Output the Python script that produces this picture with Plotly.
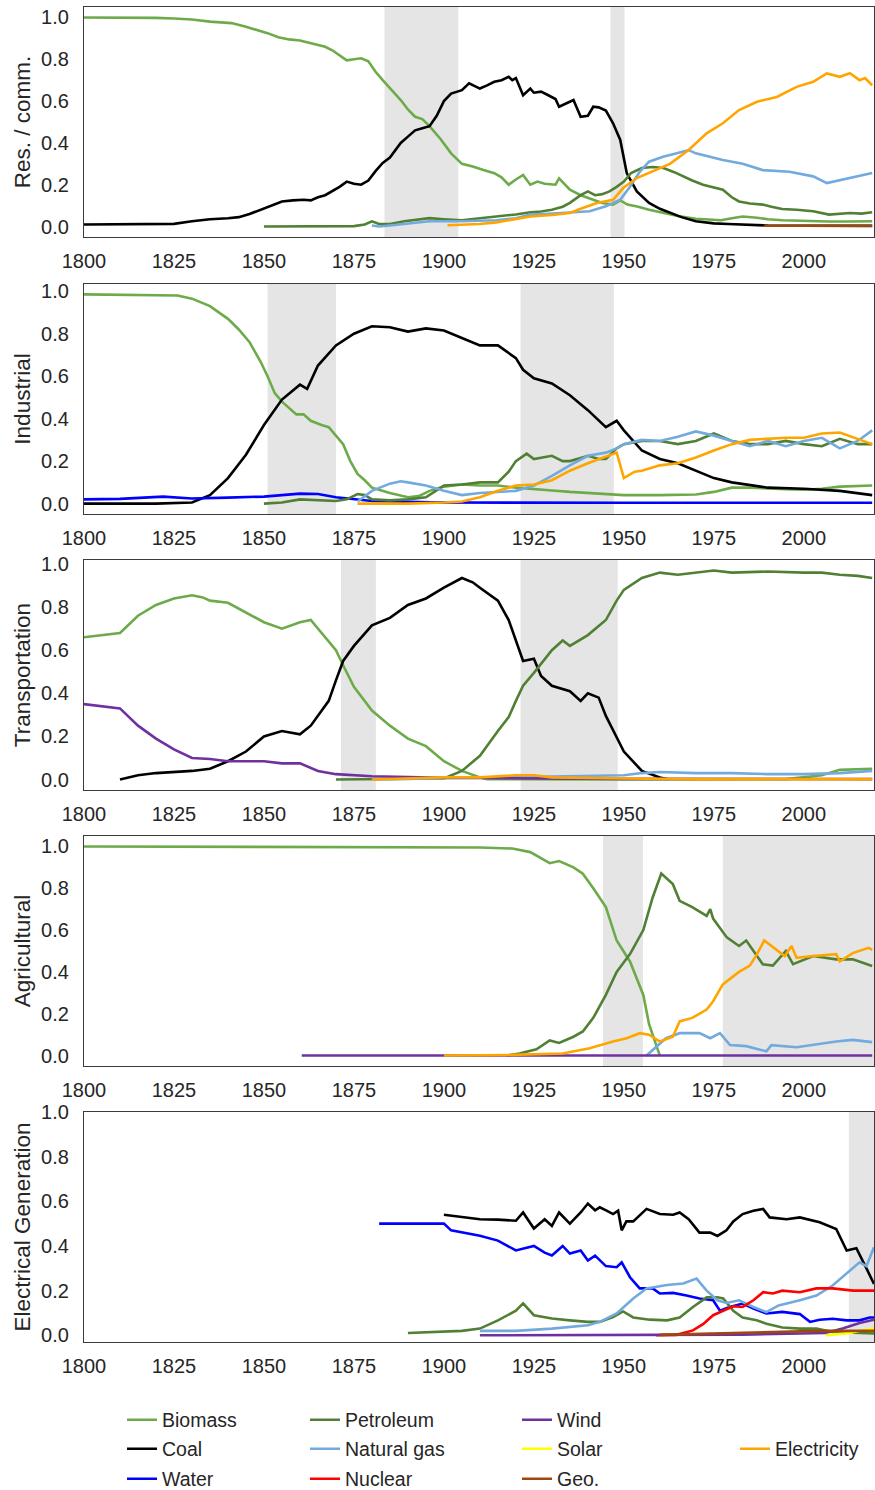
import plotly.graph_objects as go

# ---------------- data ----------------
# Panel 1: Res. / comm.
res_biomass_years = [1800, 1810, 1820, 1825, 1830, 1835, 1838, 1841, 1845, 1848, 1851, 1854, 1857, 1860, 1862, 1864, 1867, 1869, 1871, 1873, 1875, 1877, 1879, 1881, 1883, 1886, 1888, 1890, 1892, 1894, 1896, 1899, 1902, 1905, 1908, 1911, 1914, 1916, 1918, 1920, 1922, 1924, 1926, 1928, 1931, 1932, 1935, 1938, 1940, 1944, 1947, 1949, 1951, 1954, 1957, 1961, 1965, 1970, 1974, 1977, 1980, 1983, 1987, 1990, 1994, 2000, 2007, 2012, 2019]
res_biomass = [1.0, 1.0, 0.998, 0.995, 0.99, 0.98, 0.975, 0.973, 0.955, 0.94, 0.925, 0.905, 0.895, 0.89, 0.882, 0.875, 0.86, 0.843, 0.82, 0.795, 0.80, 0.805, 0.79, 0.74, 0.70, 0.645, 0.605, 0.56, 0.525, 0.514, 0.48, 0.42, 0.35, 0.30, 0.287, 0.27, 0.255, 0.235, 0.20, 0.225, 0.247, 0.20, 0.215, 0.205, 0.20, 0.23, 0.176, 0.15, 0.137, 0.113, 0.105, 0.125, 0.105, 0.095, 0.08, 0.066, 0.05, 0.037, 0.032, 0.03, 0.04, 0.048, 0.042, 0.035, 0.03, 0.026, 0.024, 0.024, 0.025]
res_coal_years = [1800, 1810, 1820, 1825, 1830, 1835, 1840, 1843, 1846, 1849, 1852, 1855, 1858, 1861, 1863, 1865, 1867, 1869, 1871, 1873, 1875, 1877, 1879, 1881, 1883, 1885, 1888, 1890, 1892, 1894, 1896, 1898, 1900, 1902, 1905, 1907, 1910, 1912, 1914, 1916, 1918, 1919, 1920, 1922, 1924, 1925, 1927, 1929, 1931, 1932, 1934, 1936, 1938, 1940, 1941.5, 1943, 1945, 1947, 1949, 1950.8, 1953.6, 1957, 1960, 1963, 1966, 1970, 1975, 1979, 1985, 1990, 2000, 2019]
res_coal = [0.01, 0.01, 0.011, 0.013, 0.025, 0.035, 0.04, 0.045, 0.06, 0.08, 0.10, 0.12, 0.125, 0.128, 0.125, 0.14, 0.15, 0.168, 0.19, 0.215, 0.205, 0.20, 0.22, 0.265, 0.304, 0.33, 0.40, 0.43, 0.46, 0.47, 0.48, 0.53, 0.60, 0.636, 0.652, 0.685, 0.66, 0.675, 0.692, 0.70, 0.716, 0.70, 0.71, 0.628, 0.66, 0.64, 0.645, 0.628, 0.61, 0.573, 0.59, 0.605, 0.525, 0.53, 0.573, 0.57, 0.555, 0.494, 0.414, 0.256, 0.168, 0.113, 0.085, 0.066, 0.045, 0.025, 0.015, 0.012, 0.008, 0.005, 0.004, 0.003]
res_petroleum_years = [1850, 1860, 1870, 1875, 1878, 1880, 1882, 1885, 1889, 1892, 1896, 1900, 1905, 1910, 1915, 1920, 1924, 1927, 1930, 1933, 1935, 1938, 1940, 1942, 1944, 1946, 1948, 1950, 1952, 1955, 1958, 1961, 1964, 1966.5, 1969, 1972, 1975, 1977.5, 1980, 1982, 1985, 1988.6, 1991, 1994, 1998, 2002.6, 2007, 2010, 2012.8, 2016, 2019]
res_petroleum = [0.0, 0.0, 0.0, 0.002, 0.01, 0.025, 0.012, 0.012, 0.025, 0.03, 0.04, 0.035, 0.03, 0.04, 0.048, 0.058, 0.068, 0.072, 0.08, 0.095, 0.113, 0.15, 0.168, 0.15, 0.155, 0.168, 0.19, 0.215, 0.256, 0.28, 0.285, 0.28, 0.26, 0.24, 0.22, 0.20, 0.185, 0.176, 0.14, 0.12, 0.11, 0.105, 0.095, 0.084, 0.08, 0.073, 0.057, 0.06, 0.065, 0.062, 0.068]
res_gas_years = [1880, 1882, 1885, 1890, 1896, 1905, 1914.6, 1920, 1924, 1928, 1933, 1940.5, 1945, 1949, 1951.7, 1954.4, 1957, 1960.9, 1964.7, 1968, 1970, 1974, 1977.5, 1983, 1988.6, 1996, 2002.6, 2006.4, 2011, 2014.7, 2019]
res_gas = [0.005, 0.0, 0.005, 0.015, 0.025, 0.025, 0.03, 0.04, 0.057, 0.06, 0.065, 0.073, 0.097, 0.128, 0.19, 0.262, 0.31, 0.334, 0.35, 0.366, 0.35, 0.334, 0.318, 0.30, 0.27, 0.262, 0.24, 0.208, 0.225, 0.24, 0.256]
res_geo_years = [1989, 2019]
res_geo = [0.004, 0.004]
res_elec_years = [1901, 1905, 1910, 1914.6, 1920, 1924, 1930, 1935, 1938, 1942.5, 1947, 1949.8, 1953.6, 1959, 1962.8, 1968, 1973, 1977.5, 1982, 1987, 1992.5, 1998, 2002.6, 2006.4, 2010, 2012.8, 2015.5, 2017, 2019]
res_elec = [0.006, 0.008, 0.012, 0.02, 0.035, 0.048, 0.055, 0.065, 0.085, 0.113, 0.128, 0.184, 0.232, 0.27, 0.30, 0.366, 0.446, 0.494, 0.557, 0.597, 0.62, 0.668, 0.692, 0.732, 0.716, 0.733, 0.70, 0.71, 0.676]

# Panel 2: Industrial
ind_biomass_years = [1800, 1810, 1820, 1826, 1830, 1835, 1840, 1843, 1846, 1849, 1851, 1853, 1855, 1857, 1859, 1861, 1863, 1866, 1868, 1870, 1872, 1874, 1876, 1878, 1880, 1885, 1890, 1893, 1896, 1900, 1905, 1910, 1915, 1920, 1925, 1930, 1935, 1940, 1945, 1950, 1960, 1970, 1975, 1980, 1985, 1990, 1995, 2000, 2005, 2010, 2015, 2019]
ind_biomass = [0.985, 0.983, 0.98, 0.98, 0.965, 0.93, 0.87, 0.82, 0.76, 0.67, 0.60, 0.52, 0.48, 0.45, 0.42, 0.42, 0.39, 0.37, 0.36, 0.32, 0.28, 0.20, 0.14, 0.11, 0.075, 0.05, 0.03, 0.035, 0.06, 0.08, 0.09, 0.085, 0.085, 0.075, 0.07, 0.062, 0.055, 0.05, 0.045, 0.04, 0.04, 0.043, 0.055, 0.075, 0.075, 0.07, 0.068, 0.065, 0.07, 0.08, 0.083, 0.085]
ind_coal_years = [1800, 1820, 1830, 1835, 1840, 1845, 1850, 1855, 1860, 1862, 1865, 1870, 1875, 1880, 1885, 1890, 1895, 1900, 1905, 1910, 1915, 1920, 1922, 1925, 1930, 1935, 1940, 1945, 1948, 1950, 1955, 1960, 1965, 1970, 1975, 1980, 1990, 2000, 2010, 2019]
ind_coal = [0.0, 0.0, 0.005, 0.04, 0.12, 0.23, 0.37, 0.49, 0.56, 0.54, 0.65, 0.745, 0.80, 0.835, 0.83, 0.81, 0.825, 0.815, 0.78, 0.745, 0.745, 0.685, 0.63, 0.59, 0.566, 0.51, 0.44, 0.36, 0.39, 0.345, 0.25, 0.21, 0.19, 0.155, 0.12, 0.10, 0.075, 0.07, 0.06, 0.04]
ind_water_years = [1800, 1810, 1822, 1830, 1840, 1850, 1860, 1865, 1870, 1875, 1880, 1890, 1900, 1950, 2019]
ind_water = [0.02, 0.022, 0.033, 0.024, 0.028, 0.033, 0.047, 0.045, 0.03, 0.02, 0.012, 0.008, 0.005, 0.004, 0.004]
ind_petroleum_years = [1850, 1855, 1860, 1865, 1870, 1873, 1876, 1878, 1880, 1885, 1890, 1895, 1900, 1905, 1910, 1915, 1918, 1920, 1923, 1925, 1928, 1930, 1933, 1935, 1938, 1940, 1943, 1945, 1948, 1950, 1955, 1960, 1965, 1970, 1975, 1980, 1985, 1990, 1995, 2000, 2005, 2010, 2015, 2019]
ind_petroleum = [0.0, 0.005, 0.02, 0.015, 0.012, 0.02, 0.045, 0.04, 0.02, 0.015, 0.02, 0.03, 0.085, 0.09, 0.10, 0.10, 0.15, 0.20, 0.235, 0.21, 0.22, 0.225, 0.20, 0.20, 0.215, 0.225, 0.21, 0.21, 0.26, 0.28, 0.295, 0.295, 0.28, 0.295, 0.33, 0.295, 0.28, 0.28, 0.295, 0.28, 0.27, 0.305, 0.28, 0.28]
ind_gas_years = [1876, 1880, 1885, 1888, 1890, 1895, 1900, 1905, 1910, 1915, 1920, 1925, 1930, 1935, 1940, 1945, 1948, 1950, 1955, 1960, 1965, 1970, 1975, 1980, 1985, 1990, 1995, 2000, 2005, 2010, 2015, 2019]
ind_gas = [0.01, 0.06, 0.094, 0.105, 0.10, 0.085, 0.06, 0.04, 0.05, 0.055, 0.06, 0.085, 0.13, 0.18, 0.225, 0.24, 0.26, 0.28, 0.30, 0.295, 0.315, 0.34, 0.32, 0.295, 0.27, 0.295, 0.27, 0.295, 0.31, 0.26, 0.295, 0.345]
ind_elec_years = [1876, 1890, 1900, 1905, 1910, 1915, 1920, 1925, 1930, 1935, 1940, 1945, 1948, 1950, 1953, 1955, 1960, 1965, 1970, 1975, 1980, 1985, 1990, 1995, 2000, 2005, 2010, 2015, 2019]
ind_elec = [0.0, 0.0, 0.005, 0.01, 0.03, 0.06, 0.085, 0.09, 0.11, 0.155, 0.19, 0.22, 0.24, 0.12, 0.15, 0.155, 0.18, 0.19, 0.217, 0.25, 0.28, 0.30, 0.305, 0.31, 0.31, 0.33, 0.335, 0.305, 0.28]

# Panel 3: Transportation
tr_biomass_years = [1800, 1810, 1815, 1820, 1825, 1830, 1833, 1835, 1840, 1845, 1850, 1855, 1860, 1863, 1865, 1870, 1872, 1875, 1880, 1885, 1890, 1895, 1900, 1905, 1910, 1912, 1950, 1995, 2005, 2010, 2019]
tr_biomass = [0.66, 0.68, 0.76, 0.81, 0.84, 0.855, 0.845, 0.83, 0.82, 0.775, 0.73, 0.70, 0.73, 0.74, 0.70, 0.60, 0.53, 0.43, 0.32, 0.25, 0.19, 0.155, 0.085, 0.04, 0.01, 0.002, 0.001, 0.002, 0.02, 0.045, 0.05]
tr_coal_years = [1810, 1815, 1820, 1830, 1835, 1840, 1845, 1850, 1855, 1860, 1863, 1865, 1868, 1870, 1872, 1875, 1880, 1885, 1890, 1895, 1900, 1905, 1908, 1910, 1915, 1918, 1920, 1922, 1925, 1927, 1930, 1935, 1938, 1940, 1943, 1945, 1950, 1955, 1960, 1962]
tr_coal = [0.0, 0.02, 0.03, 0.04, 0.05, 0.085, 0.13, 0.20, 0.225, 0.21, 0.25, 0.295, 0.365, 0.46, 0.55, 0.62, 0.715, 0.75, 0.81, 0.84, 0.89, 0.935, 0.915, 0.89, 0.83, 0.74, 0.645, 0.55, 0.56, 0.48, 0.435, 0.41, 0.365, 0.40, 0.38, 0.295, 0.13, 0.04, 0.01, 0.002]
tr_petroleum_years = [1870, 1900, 1905, 1910, 1915, 1918, 1920, 1922, 1925, 1930, 1933, 1935, 1940, 1945, 1948, 1950, 1955, 1960, 1965, 1970, 1975, 1980, 1990, 2000, 2005, 2010, 2015, 2019]
tr_petroleum = [0.0, 0.005, 0.04, 0.11, 0.225, 0.29, 0.365, 0.435, 0.495, 0.60, 0.645, 0.62, 0.67, 0.74, 0.83, 0.88, 0.935, 0.96, 0.95, 0.96, 0.97, 0.96, 0.965, 0.96, 0.96, 0.95, 0.945, 0.935]
tr_gas_years = [1880, 1900, 1920, 1940, 1950, 1955, 1960, 1970, 1980, 1990, 2000, 2010, 2019]
tr_gas = [0.0, 0.005, 0.01, 0.015, 0.02, 0.03, 0.035, 0.03, 0.03, 0.025, 0.025, 0.03, 0.04]
tr_wind_years = [1800, 1810, 1815, 1820, 1825, 1830, 1835, 1840, 1850, 1855, 1860, 1865, 1870, 1880, 1900, 1920, 1950, 2019]
tr_wind = [0.35, 0.33, 0.25, 0.19, 0.14, 0.10, 0.095, 0.085, 0.085, 0.075, 0.075, 0.04, 0.025, 0.015, 0.008, 0.005, 0.003, 0.002]
tr_elec_years = [1880, 1900, 1910, 1920, 1925, 1930, 1950, 1970, 2019]
tr_elec = [0.0, 0.01, 0.01, 0.02, 0.02, 0.01, 0.005, 0.002, 0.002]

# Panel 4: Agricultural
ag_biomass_years = [1800, 1850, 1882, 1910, 1919, 1924, 1929.4, 1932, 1936, 1938.6, 1941.5, 1945, 1948, 1951.7, 1955.4, 1957, 1960]
ag_biomass = [1.0, 0.998, 0.997, 0.995, 0.99, 0.973, 0.92, 0.93, 0.90, 0.87, 0.80, 0.71, 0.55, 0.45, 0.29, 0.15, 0.0]
ag_petroleum_years = [1917.5, 1921, 1925.7, 1929.4, 1932, 1936, 1938.6, 1941.5, 1945, 1948, 1951.7, 1955.4, 1958, 1960.4, 1963.6, 1965.5, 1969, 1973, 1974, 1974.8, 1978.6, 1982, 1984, 1988.6, 1991.4, 1995, 1997, 2002.6, 2009, 2013.6, 2019]
ag_petroleum = [0.0, 0.01, 0.03, 0.072, 0.06, 0.09, 0.115, 0.18, 0.29, 0.40, 0.485, 0.60, 0.756, 0.87, 0.82, 0.74, 0.71, 0.668, 0.70, 0.655, 0.565, 0.524, 0.55, 0.437, 0.43, 0.50, 0.437, 0.476, 0.46, 0.46, 0.428]
ag_gas_years = [1956.3, 1961.7, 1965.5, 1971, 1974, 1976.7, 1979.5, 1984, 1989.6, 1991, 1998, 2002, 2009, 2013.6, 2019]
ag_gas = [0.0, 0.083, 0.107, 0.107, 0.083, 0.107, 0.05, 0.045, 0.02, 0.05, 0.04, 0.05, 0.067, 0.075, 0.064]
ag_wind_years = [1860.5, 2019]
ag_wind = [0.0, 0.0]
ag_elec_years = [1900, 1919, 1933, 1940.5, 1947, 1950.8, 1954.4, 1957, 1960, 1963.6, 1965.5, 1969, 1973, 1974.8, 1977.5, 1982, 1985, 1987, 1989, 1991.4, 1994.7, 1996.6, 1998, 2002.6, 2009, 2010, 2013.6, 2018, 2019]
ag_elec = [0.0, 0.003, 0.01, 0.035, 0.067, 0.083, 0.107, 0.10, 0.067, 0.09, 0.163, 0.18, 0.22, 0.26, 0.34, 0.40, 0.43, 0.485, 0.55, 0.518, 0.476, 0.524, 0.467, 0.476, 0.485, 0.45, 0.49, 0.515, 0.505]

# Panel 5: Electrical Generation
eg_coal_years = [1900, 1905, 1910, 1915, 1920, 1922, 1925, 1928, 1930, 1932, 1935, 1938, 1940, 1942, 1943.3, 1945.2, 1947, 1948.4, 1949.4, 1950.7, 1952.6, 1956.3, 1960, 1963.7, 1965.5, 1968, 1971, 1974, 1976, 1978.5, 1980.4, 1983, 1986, 1988.7, 1990.5, 1995.2, 1998.9, 2004.4, 2009, 2011.9, 2014.6, 2017.4, 2019.5]
eg_coal = [0.54, 0.53, 0.52, 0.518, 0.513, 0.55, 0.478, 0.52, 0.49, 0.55, 0.50, 0.55, 0.59, 0.56, 0.573, 0.558, 0.543, 0.558, 0.47, 0.51, 0.51, 0.566, 0.543, 0.54, 0.55, 0.52, 0.46, 0.46, 0.445, 0.47, 0.51, 0.543, 0.558, 0.566, 0.528, 0.52, 0.528, 0.506, 0.476, 0.38, 0.39, 0.30, 0.23]
eg_water_years = [1882, 1900, 1902, 1905, 1910, 1915, 1920, 1925, 1928, 1930, 1933, 1935, 1938, 1940, 1942, 1945, 1948, 1949.4, 1951.7, 1954.4, 1958, 1960, 1963.7, 1967.4, 1971, 1974.8, 1976.7, 1979.4, 1983, 1986, 1989.6, 1994, 1998.9, 2001.7, 2004.4, 2008, 2011.9, 2015.5, 2018.3, 2019.5]
eg_water = [0.50, 0.50, 0.47, 0.46, 0.446, 0.424, 0.38, 0.40, 0.37, 0.357, 0.40, 0.366, 0.38, 0.335, 0.357, 0.31, 0.305, 0.327, 0.26, 0.21, 0.21, 0.187, 0.19, 0.178, 0.165, 0.157, 0.11, 0.127, 0.142, 0.12, 0.098, 0.105, 0.095, 0.06, 0.07, 0.074, 0.067, 0.067, 0.08, 0.08]
eg_petroleum_years = [1890, 1900, 1905, 1910, 1915, 1920, 1922, 1925, 1930, 1935, 1940, 1943.3, 1947, 1949.8, 1952.6, 1957.2, 1962, 1965.5, 1969.2, 1973, 1976, 1977.6, 1980.4, 1983, 1986.9, 1989.6, 1994, 1998.9, 2003.5, 2008, 2017.4, 2019.5]
eg_petroleum = [0.01, 0.015, 0.02, 0.03, 0.067, 0.11, 0.143, 0.09, 0.075, 0.067, 0.06, 0.06, 0.082, 0.107, 0.08, 0.07, 0.067, 0.08, 0.127, 0.17, 0.17, 0.165, 0.11, 0.08, 0.067, 0.052, 0.035, 0.03, 0.03, 0.015, 0.01, 0.008]
eg_gas_years = [1910, 1920, 1930, 1940, 1943.3, 1948, 1952.6, 1956.3, 1962, 1966.5, 1970.2, 1973, 1976, 1978.5, 1982, 1986, 1989.6, 1993, 1998.9, 2003.5, 2008, 2011.9, 2015.5, 2017.4, 2019.5]
eg_gas = [0.02, 0.02, 0.03, 0.045, 0.06, 0.098, 0.165, 0.21, 0.225, 0.232, 0.254, 0.20, 0.157, 0.145, 0.157, 0.127, 0.104, 0.134, 0.157, 0.178, 0.223, 0.277, 0.327, 0.31, 0.394]
eg_nuclear_years = [1958.9, 1964.6, 1969.2, 1972, 1974.8, 1977.6, 1980.4, 1983, 1986, 1988.7, 1991.4, 1994, 1998.9, 2003.5, 2008, 2013.7, 2019.5]
eg_nuclear = [0.0, 0.002, 0.022, 0.05, 0.09, 0.11, 0.13, 0.127, 0.157, 0.193, 0.187, 0.20, 0.193, 0.21, 0.21, 0.20, 0.20]
eg_wind_years = [1910, 1950, 1983, 2006, 2010.8, 2015.5, 2019.5]
eg_wind = [0.0, 0.0, 0.003, 0.01, 0.03, 0.055, 0.07]
eg_solar_years = [2006, 2012.8, 2015.5, 2019.5]
eg_solar = [0.0, 0.01, 0.02, 0.03]
eg_geo_years = [1960, 1975, 1990, 2005, 2019.5]
eg_geo = [0.002, 0.008, 0.015, 0.02, 0.02]

# shaded transition periods per panel (start, end)
res_spans = [(1883.5, 1904), (1946.3, 1950.2)]
ind_spans = [(1851, 1870), (1921.3, 1947.2)]
tr_spans = [(1871.4, 1881.1), (1921.3, 1948.3)]
ag_spans = [(1944.2, 1955.3), (1977.5, 2020)]
eg_spans = [(2012.5, 2020)]

panel_titles = ["Res. / comm.", "Industrial", "Transportation", "Agricultural", "Electrical Generation"]
x_ticks = [1800, 1825, 1850, 1875, 1900, 1925, 1950, 1975, 2000]
y_ticks = [0.0, 0.2, 0.4, 0.6, 0.8, 1.0]

# ---------------- styling ----------------
COLORS = {
    "Biomass": "#6dab4a",
    "Coal": "#000000",
    "Water": "#0000ff",
    "Petroleum": "#518034",
    "Natural gas": "#72aadd",
    "Nuclear": "#ff0000",
    "Wind": "#7030a0",
    "Solar": "#ffff00",
    "Geo.": "#9e480e",
    "Electricity": "#ffa500",
}
LEGEND_ORDER = ["Biomass", "Coal", "Water", "Petroleum", "Natural gas", "Nuclear",
                "Wind", "Solar", "Geo.", "Electricity"]
TEXT = "#262626"
FONT = "Liberation Sans, Arial, sans-serif"
W, H = 875, 1490

panels = [
    ([("Biomass", res_biomass_years, res_biomass), ("Coal", res_coal_years, res_coal),
      ("Petroleum", res_petroleum_years, res_petroleum), ("Natural gas", res_gas_years, res_gas),
      ("Geo.", res_geo_years, res_geo), ("Electricity", res_elec_years, res_elec)],
     res_spans, [-0.05, 1.05]),
    ([("Biomass", ind_biomass_years, ind_biomass), ("Coal", ind_coal_years, ind_coal),
      ("Water", ind_water_years, ind_water), ("Petroleum", ind_petroleum_years, ind_petroleum),
      ("Natural gas", ind_gas_years, ind_gas), ("Electricity", ind_elec_years, ind_elec)],
     ind_spans, [-0.049, 1.034]),
    ([("Biomass", tr_biomass_years, tr_biomass), ("Coal", tr_coal_years, tr_coal),
      ("Petroleum", tr_petroleum_years, tr_petroleum), ("Natural gas", tr_gas_years, tr_gas),
      ("Wind", tr_wind_years, tr_wind), ("Electricity", tr_elec_years, tr_elec)],
     tr_spans, [-0.0485, 1.0185]),
    ([("Biomass", ag_biomass_years, ag_biomass), ("Petroleum", ag_petroleum_years, ag_petroleum),
      ("Natural gas", ag_gas_years, ag_gas), ("Wind", ag_wind_years, ag_wind),
      ("Electricity", ag_elec_years, ag_elec)],
     ag_spans, [-0.05, 1.05]),
    ([("Coal", eg_coal_years, eg_coal), ("Water", eg_water_years, eg_water),
      ("Petroleum", eg_petroleum_years, eg_petroleum), ("Natural gas", eg_gas_years, eg_gas),
      ("Nuclear", eg_nuclear_years, eg_nuclear), ("Wind", eg_wind_years, eg_wind),
      ("Solar", eg_solar_years, eg_solar), ("Geo.", eg_geo_years, eg_geo)],
     eg_spans, [-0.03, 1.0]),
]

# pixel layout of plot areas (top edge, height)
panel_tops = [7, 284, 560, 836, 1112]
panel_h = 230
x_left, x_right = 84, 874

fig = go.Figure()
legend_of = {name: ("legend" if i == 0 else f"legend{i+1}") for i, name in enumerate(LEGEND_ORDER)}
shown = set()
layout = {}
shapes = []

for p, (series, spans, yr) in enumerate(panels):
    n = "" if p == 0 else str(p + 1)
    top = panel_tops[p]
    y0 = (H - (top + panel_h)) / H
    y1 = (H - top) / H
    layout[f"xaxis{n}"] = dict(
        domain=[x_left / W, x_right / W], anchor=f"y{n}", range=[1800, 2019.5],
        tickvals=x_ticks, ticks="outside", ticklen=6, tickcolor="rgba(0,0,0,0)",
        showline=True, mirror=True, linecolor="#3b3b3b", linewidth=1.25,
        showgrid=False, zeroline=False, automargin=False,
        tickfont=dict(family=FONT, size=20, color=TEXT),
    )
    layout[f"yaxis{n}"] = dict(
        domain=[y0, y1], anchor=f"x{n}", range=yr, tickvals=y_ticks, tickformat=".1f",
        ticks="outside", ticklen=10, tickcolor="rgba(0,0,0,0)",
        showline=True, mirror=True, linecolor="#3b3b3b", linewidth=1.25,
        showgrid=False, zeroline=False, automargin=False,
        tickfont=dict(family=FONT, size=20, color=TEXT),
        title=dict(text=panel_titles[p], standoff=4,
                   font=dict(family=FONT, size=22.5, color=TEXT)),
    )
    for (a, b) in spans:
        shapes.append(dict(type="rect", xref=f"x{n}", yref=f"y{n} domain", x0=a, x1=b, y0=0, y1=1,
                           fillcolor="#e5e5e5", line=dict(width=0), layer="below"))
    for name, xs, ys in series:
        first = name not in shown
        shown.add(name)
        fig.add_trace(go.Scatter(
            x=xs, y=ys, mode="lines", name=name, legendgroup=name,
            showlegend=first, legend=legend_of[name],
            line=dict(color=COLORS[name], width=2.6),
            xaxis=f"x{n}", yaxis=f"y{n}", hoverinfo="skip",
        ))

# legend placement: 4 columns x 3 rows (Electricity alone in column 4, middle row)
col_x = [122, 305, 517, 735]
row_y = [1420, 1449, 1479]
legend_pos = {
    "Biomass": (0, 0), "Coal": (0, 1), "Water": (0, 2),
    "Petroleum": (1, 0), "Natural gas": (1, 1), "Nuclear": (1, 2),
    "Wind": (2, 0), "Solar": (2, 1), "Geo.": (2, 2),
    "Electricity": (3, 1),
}
for name, (c, r) in legend_pos.items():
    layout[legend_of[name]] = dict(
        x=col_x[c] / W, y=(H - row_y[r]) / H, xanchor="left", yanchor="middle",
        bgcolor="rgba(0,0,0,0)", borderwidth=0,
        font=dict(family=FONT, size=19.5, color=TEXT),
    )

fig.update_layout(
    width=W, height=H, margin=dict(l=0, r=0, t=0, b=0, autoexpand=False),
    paper_bgcolor="white", plot_bgcolor="white", shapes=shapes,
    **layout,
)

fig.write_html(
    "out.html",
    config={"displayModeBar": False},
    post_script="document.body.style.margin='0';document.body.style.overflow='hidden';",
)
